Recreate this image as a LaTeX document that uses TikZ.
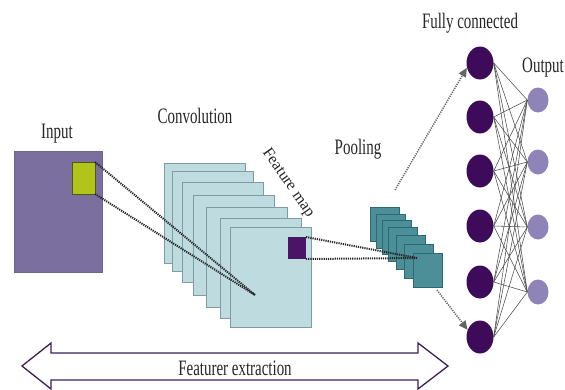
\documentclass[tikz,border=0pt]{standalone}
\usepackage{fontspec}
\setmainfont{Liberation Serif}[FakeStretch=0.68]
\newfontfamily\plainserif{Liberation Serif}
\usetikzlibrary{shapes.geometric,arrows.meta}

\definecolor{inputfill}{HTML}{7B6FA0}
\definecolor{inputline}{HTML}{6B6690}
\definecolor{patchfill}{HTML}{B2C41C}
\definecolor{patchline}{HTML}{4E5A12}
\definecolor{mapfill}{HTML}{BEDBE0}
\definecolor{mapline}{HTML}{7E9CA2}
\definecolor{hotfill}{HTML}{4A1567}
\definecolor{poolfill}{HTML}{4C8F98}
\definecolor{poolline}{HTML}{2E6870}
\definecolor{fcfill}{HTML}{3D0B5A}
\definecolor{outfill}{HTML}{8E84B8}
\definecolor{arrowline}{HTML}{3E1D5C}
\definecolor{dotgray}{HTML}{262626}
\definecolor{pointgray}{HTML}{656565}

\begin{document}
\begin{tikzpicture}[x=1pt,y=-1pt,
  lbl/.style={inner sep=0pt, font=\fontsize{22}{24}\selectfont, text=black!85},
  boxnw/.style={anchor=north west, inner sep=0pt, outer sep=0pt, line width=0.8pt},
  fmap/.style={boxnw, draw=mapline, fill=mapfill, minimum width=81pt, minimum height=100pt},
  pmap/.style={boxnw, draw=poolline, fill=poolfill, minimum width=29pt, minimum height=34pt},
  dotline/.style={draw=dotgray, line width=2pt, dash pattern=on 1.2pt off 1pt},
  pointer/.style={draw=pointgray, line width=1.5pt, dash pattern=on 1.2pt off 1.1pt,
    -{Triangle[length=9pt,width=8pt]}},
  fc/.style={ellipse, fill=fcfill, inner sep=0pt, minimum width=27pt, minimum height=33pt},
  outn/.style={ellipse, fill=outfill, inner sep=0pt, minimum width=21pt, minimum height=25pt},
  wire/.style={draw=black!70, line width=0.55pt}]

\useasboundingbox (0,0) rectangle (565,389);

% input image with the receptive field patch
\node[boxnw, draw=inputline, fill=inputfill, minimum width=88pt, minimum height=121pt] (input) at (14,151) {};
\node[boxnw, draw=patchline, fill=patchfill, minimum width=23pt, minimum height=32pt] (patch) at (72,162) {};

% stack of convolution feature maps
\foreach \n/\x/\y in {1/164/163, 2/172/171, 3/182/182, 4/193/195, 5/206/207, 6/220/218, 7/230/227}
  \node[fmap] (c\n) at (\x,\y) {};
\node[boxnw, fill=hotfill, minimum width=18pt, minimum height=22pt] (hot) at (288,237) {};

% pooled maps
\foreach \n/\x/\y in {1/370/207, 2/376/214, 3/382/220, 4/388/227, 5/396/235, 6/404/244, 7/413/253}
  \node[pmap] (p\n) at (\x,\y) {};

% projections of the receptive fields
\coordinate (convfocus) at (255,295);
\coordinate (poolfocus) at (417,258);
\draw[dotline] (patch.north east) -- (convfocus);
\draw[dotline] (patch.south east) -- (convfocus);
\draw[dotline] (hot.north east) -- (poolfocus);
\draw[dotline] (hot.south east) -- (poolfocus);

% fully connected layer and output layer
\foreach \i/\y in {1/63, 2/117, 3/171, 4/226, 5/282, 6/337}
  \node[fc] (f\i) at (480,\y) {};
\foreach \j/\y in {1/100, 2/162, 3/227, 4/292}
  \node[outn] (o\j) at (538,\y) {};
\foreach \i in {1,...,6}
  \foreach \j in {1,...,4}
    \draw[wire] (f\i.east) -- (o\j.west);

% flattening pointers from the pooled maps
\coordinate (flattop) at (395,190);
\coordinate (flatbot) at (437,290);
\draw[pointer] (flattop) -- (f1.200);
\draw[pointer] (flatbot) -- (f6.150);

% feature extraction span
\draw[draw=arrowline, fill=white, line width=1.3pt, line join=miter]
  (22,366) -- (51,343) -- (51,353) -- (418,353) -- (418,343) -- (448,366)
  -- (418,389) -- (418,380) -- (51,380) -- (51,389) -- cycle;

% labels
\node[lbl] (tin) at (57,134) {Input};
\node[lbl] (tconv) at (195,116) {Convolution};
\node[inner sep=0pt, font=\plainserif\fontsize{16}{18}\selectfont, text=black!85, rotate=-55] (tmap) at (288,183) {Feature map};
\node[lbl] (tpool) at (358,149) {Pooling};
\node[lbl] (tfc) at (470,23) {Fully connected};
\node[lbl] (tout) at (543,68) {Output};
\node[lbl] (tfe) at (235,368) {Featurer extraction};
\end{tikzpicture}
\end{document}
